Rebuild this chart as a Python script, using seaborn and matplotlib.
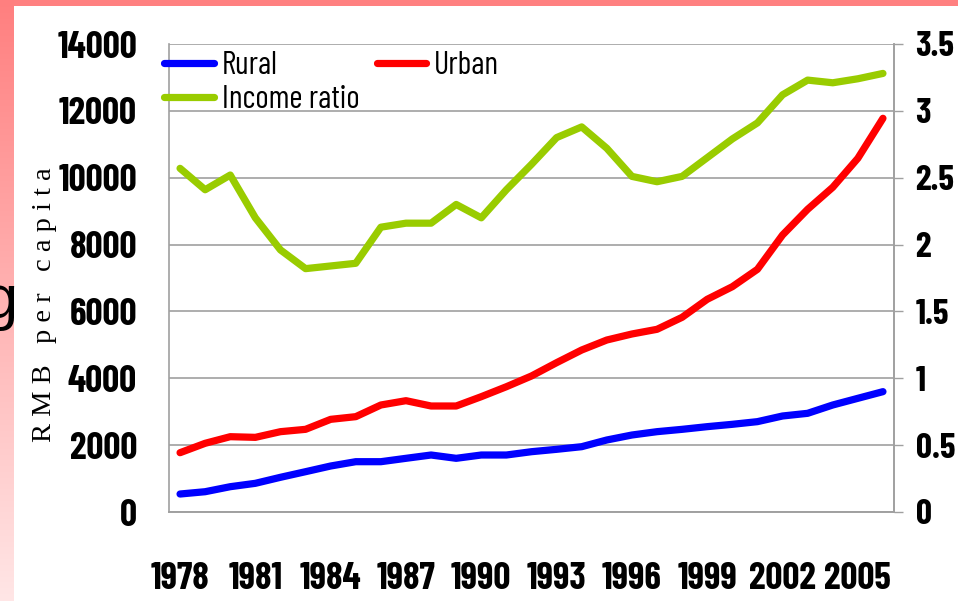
import matplotlib

matplotlib.use("Agg")
import matplotlib.pyplot as plt  # noqa: E402
import numpy as np
import pandas as pd
import seaborn as sns

years = list(range(1978, 2007))
rural = [538, 607, 757, 858, 1038, 1206, 1376, 1505, 1505, 1606,
         1705, 1606, 1705, 1705, 1804, 1875, 1954, 2154, 2303, 2403,
         2473, 2553, 2623, 2703, 2872, 2952, 3201, 3401, 3600]
urban = [1774, 2055, 2253, 2233, 2403, 2473, 2772, 2852, 3201, 3330,
         3171, 3171, 3450, 3748, 4069, 4467, 4846, 5145, 5325, 5465,
         5824, 6363, 6740, 7260, 8286, 9055, 9713, 10581, 11777]
income_ratio = [2.57, 2.41, 2.52, 2.20, 1.96, 1.82, 1.84, 1.86, 2.13, 2.16,
                2.16, 2.30, 2.20, 2.41, 2.60, 2.80, 2.88, 2.72, 2.51, 2.47,
                2.51, 2.65, 2.79, 2.91, 3.12, 3.23, 3.21, 3.24, 3.28]
xtick_years = list(range(1978, 2006, 3))
left_ticks = list(range(0, 14001, 2000))
right_ticks = [0, 0.5, 1, 1.5, 2, 2.5, 3, 3.5]

df = pd.DataFrame({"year": years, "Rural": rural, "Urban": urban,
                   "Income ratio": income_ratio})

sns.set_theme(style="white")
plt.rcParams["font.family"] = ["Barlow Condensed", "Roboto Condensed", "DejaVu Sans"]

W, H = 958, 601
fig = plt.figure(figsize=(W / 100, H / 100), dpi=100, facecolor="white")

# slide background remnants: salmon band on top, pink gradient on the left
top = fig.add_axes([0, 1 - 6 / H, 1, 6 / H])
top.set_axis_off()
top.add_patch(plt.Rectangle((0, 0), 1, 1, color="#ff8080", transform=top.transAxes))
side = fig.add_axes([0, 0, 14 / W, 1])
grad = np.linspace(0, 1, 256).reshape(-1, 1)
cmap = matplotlib.colors.LinearSegmentedColormap.from_list("pk", ["#ff7f7f", "#ffe6e6"])
side.imshow(grad, aspect="auto", cmap=cmap, extent=[0, 1, 1, 0])
side.set_axis_off()
fig.text(0.0, 1 - 318 / H, "g", fontsize=44, ha="center", va="baseline",
         family="Liberation Sans", color="black")

ax = fig.add_axes([169 / W, 89 / H, (894 - 169) / W, (512 - 44) / H])
ax2 = ax.twinx()

sns.lineplot(data=df, x="year", y="Rural", ax=ax, color="#0000ff", lw=5.2,
             label="Rural", legend=False)
sns.lineplot(data=df, x="year", y="Urban", ax=ax, color="#ff0000", lw=5.2,
             label="Urban", legend=False)
sns.lineplot(data=df, x="year", y="Income ratio", ax=ax2, color="#99cc00", lw=5.2,
             label="Income ratio", legend=False)
for ln in ax.get_lines() + ax2.get_lines():
    ln.set_solid_capstyle("round")

ax.set_xlim(1977.56, 2006.44)
ax.set_ylim(0, 14000)
ax2.set_ylim(0, 3.5)
ax.set_yticks(left_ticks)
ax2.set_yticks(right_ticks)
ax2.set_yticklabels([f"{v:g}" for v in right_ticks])
ax.set_xticks(xtick_years)
ax.set_xticklabels([str(y) for y in xtick_years])

for lab in ax.get_xticklabels() + ax.get_yticklabels():
    lab.set_fontsize(27)
    lab.set_fontweight("bold")
    lab.set_color("black")
for lab in ax2.get_yticklabels():
    lab.set_fontsize(25.5)
    lab.set_fontweight("bold")
    lab.set_color("black")

ax.yaxis.grid(True, color="#a0a0a0", lw=1.2)
ax.xaxis.grid(False)
ax.set_axisbelow(True)
ax.tick_params(axis="y", length=0, pad=23)
ax.tick_params(axis="x", length=0, pad=36)
ax2.tick_params(axis="y", length=6.5, width=1, color="#a0a0a0", pad=9, direction="out")

for a in (ax, ax2):
    for sp in a.spines.values():
        sp.set_color("#a0a0a0")
        sp.set_linewidth(1.2)
    a.spines["top"].set_visible(False)
    a.set_xlabel("")
    a.set_ylabel("")
ax2.spines["left"].set_visible(False)

fig.text(45 / W, 1 - 305 / H, "R M B   p e r   c a p i t a", family="Liberation Serif",
         fontsize=20.5, rotation=90, ha="center", va="center", color="black")

h1 = ax.get_lines()
h2 = ax2.get_lines()
handles = [h1[0], h2[0], h1[1]]
labels = ["Rural", "Income ratio", "Urban"]
leg = ax2.legend(handles, labels, ncol=2, frameon=False, fontsize=23,
                 loc="upper left", bbox_to_anchor=(164 / W, 1 - 51 / H),
                 bbox_transform=fig.transFigure, borderpad=0, borderaxespad=0,
                 handlelength=1.55, handletextpad=0.25, labelspacing=0.12,
                 columnspacing=0.55)
for t in leg.get_texts():
    t.set_color("black")

fig.savefig("out.png", dpi=100, facecolor="white")
